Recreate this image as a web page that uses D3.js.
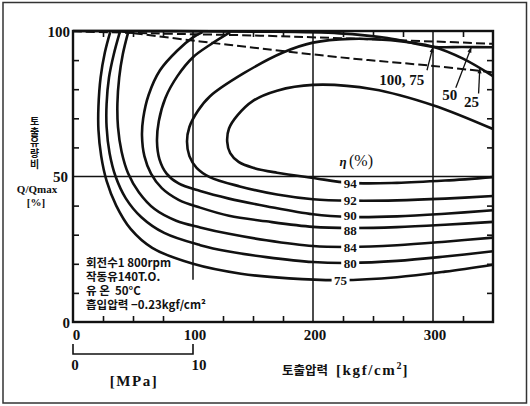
<!DOCTYPE html>
<html><head><meta charset="utf-8">
<script src="https://cdn.jsdelivr.net/npm/d3@7"></script>
<style>
html,body{margin:0;padding:0;background:#fff;}
svg{display:block;}
.num{font-family:"Liberation Serif","DejaVu Serif",serif;font-weight:bold;fill:#111;}
.kr{font-family:"Noto Sans CJK KR","Liberation Serif",sans-serif;font-weight:bold;fill:#111;}
.vt{font-family:"Noto Sans CJK KR",sans-serif;font-weight:bold;color:#111;font-size:10px;line-height:14px;
    writing-mode:vertical-rl;text-orientation:upright;letter-spacing:0.8px;margin:0;padding:0;}
.notes{font-family:"Noto Sans CJK KR",sans-serif;font-weight:bold;color:#111;font-size:11.5px;line-height:14px;
    white-space:pre;margin:0;padding:0;}
</style></head>
<body>
<svg id="chart" width="530" height="406"></svg>
<script>
// ---- data ----
const xTickLabels = [0, 100, 200, 300];
const yTickLabels = [0, 50, 100];
const mpaTickLabels = [0, 10];
const effLevels = [94, 92, 90, 88, 84, 80, 75];
// label positions (pressure, flow ratio) where each contour is tagged
const effLabelX = [231, 231, 231, 231, 231, 231, 223];
const effLabelY = [47.7, 41.8, 36.7, 31.7, 25.8, 20.3, 14.4];

const c94 = [[350,66.3],[300,74.5],[250,80],[200,81.5],[170,79.5],[150,76],[137,71],[130,66.5],[128.5,62],[131,58],[138,55],[150,53],[170,51.3],[200,49.5],[231,47.8],[270,47.8],[310,48.6],[350,49.8]];
const c92 = [[350,84.5],[325,90.5],[300,94.6],[265,96.8],[231,97.3],[200,96],[175,92.6],[142,85.4],[114,77.5],[104,72.5],[97,67],[95,62],[97,57],[103,53],[114,49.8],[139,46.6],[170,43.8],[200,42.2],[231,41.7],[270,41.8],[310,42.4],[350,43.3]];
const c90 = [[131,99.6],[114,95.2],[100,91],[87,84.5],[77,77],[71.5,69],[70,62],[72,56],[78,51],[88,47.6],[106,45],[130,42.4],[161,39.8],[200,37],[231,36.1],[270,36.3],[310,37.2],[350,38.4]];
const c88 = [[108,99.6],[100,97.8],[87,93.3],[72.5,86.5],[63,78],[58.5,70],[57.5,64],[59.5,57],[65,51],[74,46],[88,42],[106,39.3],[130,36.5],[161,34.6],[200,32.7],[231,32.3],[270,32.6],[310,33.4],[350,34.4]];
const c84 = [[46,99.6],[41.5,92],[38.5,84],[37,75],[37.5,67],[40.5,58.5],[46,51],[55,44.5],[68,38.8],[86,34.8],[106,32.5],[130,30.3],[161,28.1],[200,26.1],[231,25.8],[270,26.4],[310,27.6],[350,29]];
const c80 = [[39,99.6],[34,92],[30,84],[28,75],[28,67],[30.5,58],[35.5,50],[44,42.5],[57,36],[76,30.6],[106,26.4],[130,24.2],[161,22.3],[200,20.6],[231,20.3],[270,21],[310,22.5],[350,24.3]];
const c75 = [[31,99.6],[26.5,92.5],[23,84],[21.2,74],[21.2,66],[23.5,57],[28,48.5],[36,40],[48,32],[66,25.5],[100,20],[140,16.6],[180,15],[223,14.4],[270,15.4],[310,17.3],[350,19.7]];
const contours = [c94, c92, c90, c88, c84, c80, c75];

// top characteristic lines
const line100_75 = [[0,100],[150,99.8],[222,99.2],[262,97.6],[300,94.6],[325,94.5],[350,94.4]];
const dashedA = [[0,99.9],[64,99.2],[156,98.4],[231,97.4],[300,96.4],[350,95.6]];
const dashedB = [[40,99.8],[106,96.4],[156,94],[231,90.6],[300,88],[350,85.8]];
// annotation labels: text, text position, arrow tip
const annTexts = ["100, 75", "50", "25"];
const annTextPos = [[274,81.4],[314,76.4],[332,73.9]];
const annArrowFrom = [[295,86.5],[319,80.5],[338,78.5]];
const annArrowTo = [[300,94.6],[332,94.5],[339,87.4]];
const notes = ["회전수1 800rpm", "작동유140T.O.", "유 온  50°C", "흡입압력 −0.23kgf/cm²"];
const yTitleText = "토출유량비";

// ---- drawing ----
const svg = d3.select("#chart");
const x = d3.scaleLinear().domain([0, 350]).range([73, 493]);
const y = d3.scaleLinear().domain([0, 100]).range([322, 31]);
const ink = "#111";

// outer border
svg.append("rect").attr("x", 3).attr("y", 2.5).attr("width", 523.5).attr("height", 400.5)
  .attr("fill", "none").attr("stroke", "#333").attr("stroke-width", 1.5);

// grid lines
svg.append("line").attr("x1", x(100)).attr("x2", x(100)).attr("y1", y(100)).attr("y2", y(14.5))
  .attr("stroke", ink).attr("stroke-width", 1.5);
[200, 300].forEach(v => svg.append("line").attr("x1", x(v)).attr("x2", x(v)).attr("y1", y(100)).attr("y2", y(0))
  .attr("stroke", ink).attr("stroke-width", 1.5));
svg.append("line").attr("x1", x(0)).attr("x2", x(350)).attr("y1", y(50)).attr("y2", y(50))
  .attr("stroke", ink).attr("stroke-width", 1.5);

// ticks via axes
const xt = d3.range(25, 350, 25).filter(v => v % 100 !== 0);
const yt = d3.range(10, 100, 10).filter(v => v !== 50);
function clean(g){ g.select(".domain").remove(); g.selectAll("line").attr("stroke", ink).attr("stroke-width", 1.6); }
svg.append("g").attr("transform", `translate(0,${y(0)})`).call(d3.axisBottom(x).tickValues(xt).tickSize(-6).tickFormat("")).call(clean);
svg.append("g").attr("transform", `translate(0,${y(100)})`).call(d3.axisTop(x).tickValues(xt).tickSize(-6).tickFormat("")).call(clean);
svg.append("g").attr("transform", `translate(${x(0)},0)`).call(d3.axisLeft(y).tickValues(yt).tickSize(-6).tickFormat("")).call(clean);
svg.append("g").attr("transform", `translate(${x(350)},0)`).call(d3.axisRight(y).tickValues(yt).tickSize(-6).tickFormat("")).call(clean);

// frame
svg.append("rect").attr("x", x(0)).attr("y", y(100)).attr("width", x(350) - x(0)).attr("height", y(0) - y(100))
  .attr("fill", "none").attr("stroke", ink).attr("stroke-width", 2.4);

const line = d3.line().x(d => x(d[0])).y(d => y(d[1])).curve(d3.curveCatmullRom.alpha(0.5));

// dashed lines
[dashedA, dashedB].forEach(d => svg.append("path").attr("d", line(d)).attr("fill", "none")
  .attr("stroke", ink).attr("stroke-width", 2).attr("stroke-dasharray", "9,4"));
// characteristic line
svg.append("path").attr("d", line(line100_75)).attr("fill", "none").attr("stroke", ink).attr("stroke-width", 2.6);

// contours
contours.forEach(d => svg.append("path").attr("d", line(d)).attr("fill", "none")
  .attr("stroke", ink).attr("stroke-width", 2.6));

// contour labels
effLevels.forEach((lv, i) => {
  const g = svg.append("g").attr("transform", `translate(${x(effLabelX[i])},${y(effLabelY[i])})`);
  g.append("rect").attr("x", -9).attr("y", -5).attr("width", 18).attr("height", 10).attr("fill", "#fff");
  g.append("text").attr("class", "num").attr("text-anchor", "middle").attr("y", 4.8)
    .style("font-size", "13px").text(lv);
});
// eta label
svg.append("text").attr("class", "num").attr("x", x(222)).attr("y", y(53.5))
  .style("font-size", "13px").style("font-style", "italic").text("η");
svg.append("text").attr("class", "num").attr("x", x(230)).attr("y", y(53.5))
  .style("font-size", "16px").style("font-weight", "normal").text("(%)");

// annotations with arrows
annTexts.forEach((t, i) => {
  svg.append("text").attr("class", "num").attr("text-anchor", "middle")
    .attr("x", x(annTextPos[i][0])).attr("y", y(annTextPos[i][1])).style("font-size", "15px").text(t);
  const x1 = x(annArrowFrom[i][0]), y1 = y(annArrowFrom[i][1]);
  const x2 = x(annArrowTo[i][0]), y2 = y(annArrowTo[i][1]);
  svg.append("line").attr("x1", x1).attr("y1", y1).attr("x2", x2).attr("y2", y2)
    .attr("stroke", ink).attr("stroke-width", 1.3);
  const a = Math.atan2(y2 - y1, x2 - x1), L = 6;
  svg.append("path").attr("d", `M${x2},${y2}L${x2 - L*Math.cos(a - 0.35)},${y2 - L*Math.sin(a - 0.35)}L${x2 - L*Math.cos(a + 0.35)},${y2 - L*Math.sin(a + 0.35)}Z`)
    .attr("fill", ink);
});

// axis labels
xTickLabels.forEach(v => svg.append("text").attr("class", "num").attr("text-anchor", "middle")
  .attr("x", x(v) + (v === 0 ? 3.5 : 2)).attr("y", 340).style("font-size", "15px").text(v));
yTickLabels.forEach(v => svg.append("text").attr("class", "num").attr("text-anchor", "end")
  .attr("x", v === 50 ? 68 : 70).attr("y", y(v) + 5.5).style("font-size", "15px").text(v));

// MPa secondary axis
const xm = d3.scaleLinear().domain([0, 10]).range([x(0), x(100)]);
svg.append("path").attr("d", `M${xm(0)},${344}V354H${xm(10)}V344`).attr("fill", "none")
  .attr("stroke", ink).attr("stroke-width", 1.6);
mpaTickLabels.forEach(v => svg.append("text").attr("class", "num").attr("text-anchor", "middle")
  .attr("x", xm(v) + (v === 0 ? 2 : 6)).attr("y", 370).style("font-size", "15px").text(v));
svg.append("text").attr("class", "num").attr("text-anchor", "middle").attr("x", 134).attr("y", 386)
  .style("font-size", "15px").style("letter-spacing", "1.5px").text("[MPa]");

// x title
const xt1 = svg.append("text").attr("x", 282).attr("y", 375);
xt1.append("tspan").attr("class", "kr").style("font-size", "12.5px").text("토출압력");
xt1.append("tspan").attr("class", "num").style("font-size", "15px").style("letter-spacing", "1.6px").attr("dx", 8).text("[kgf/cm");
xt1.append("tspan").attr("class", "num").style("font-size", "10px").attr("dy", -6).text("2");
xt1.append("tspan").attr("class", "num").style("font-size", "15px").attr("dx", 1).attr("dy", 6).text("]");

// y title (upright characters stacked vertically)
svg.append("foreignObject").attr("x", 27).attr("y", 116).attr("width", 14).attr("height", 60)
  .append("xhtml:div").attr("class", "vt").text(yTitleText);
svg.append("text").attr("class", "num").attr("text-anchor", "middle").attr("x", 37).attr("y", 193)
  .style("font-size", "11px").text("Q/Qmax");
svg.append("text").attr("class", "num").attr("text-anchor", "middle").attr("x", 36).attr("y", 206)
  .style("font-size", "11px").text("[%]");

// condition notes (one block, fixed line height)
svg.append("foreignObject").attr("x", 86).attr("y", 255).attr("width", 140).attr("height", 60)
  .append("xhtml:div").attr("class", "notes").text(notes.join("\n"));
</script>
</body></html>
